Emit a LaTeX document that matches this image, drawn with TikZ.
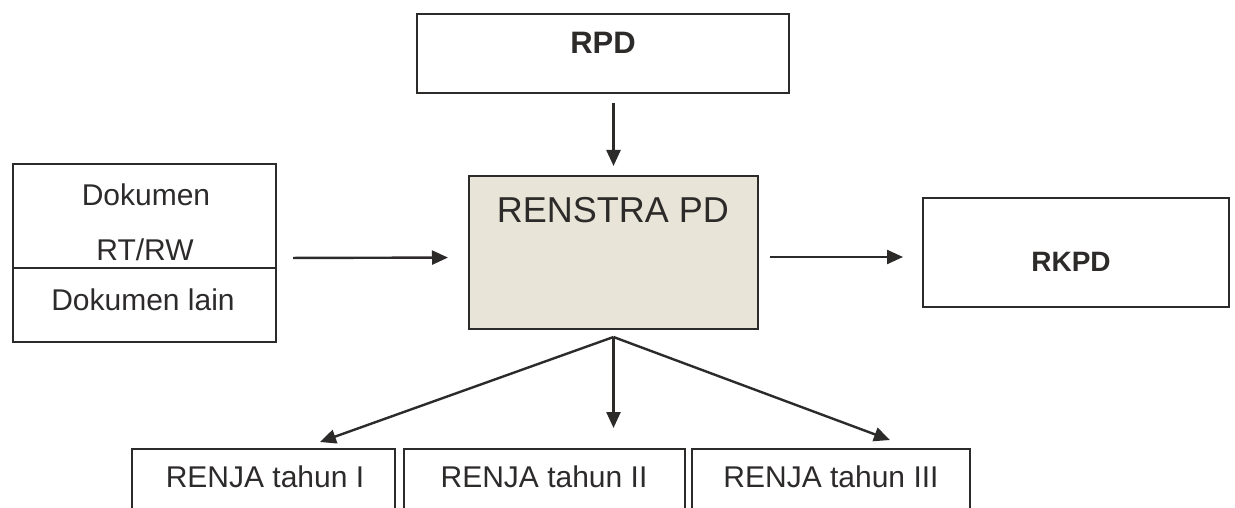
\documentclass[tikz,border=0pt]{standalone}
\usepackage{fontspec}
\setmainfont{Liberation Sans}
\usetikzlibrary{arrows.meta}
\definecolor{ink}{RGB}{45,42,42}
\definecolor{renfill}{RGB}{232,228,216}
\begin{document}
\begin{tikzpicture}[x=1pt, y=-1pt,
        box/.style={draw=ink, line width=2pt, inner sep=0pt, outer sep=0pt},
        txt/.style={text=ink, inner sep=0pt, font=\fontsize{30}{36}\selectfont},
        arr/.style={draw=ink, line width=2.4pt, -{Triangle[length=16pt, width=14pt]}}]
        \useasboundingbox (0, 0) rectangle (1235, 508);
        \clip (0, 0) rectangle (1235, 508);
        \node[box, minimum width=372pt, minimum height=79pt] (rpd) at (603, 53.5) {};
        \node[txt, font=\fontsize{31}{36}\selectfont\bfseries] (rpdtxt) at (603, 43) {RPD};
        \node[box, fill=renfill, minimum width=289pt, minimum height=153pt] (renstra) at (613.5, 252.5) {};
        \node[txt, font=\fontsize{36}{42}\selectfont] (renstratxt) at (613, 210) {RENSTRA PD};
        \node[box, minimum width=263pt, minimum height=178pt] (docs) at (144.5, 253) {};
        \draw[ink, line width=2pt] (docs.west |- 0, 268) -- (docs.east |- 0, 268);
        \node[txt] (dokumen) at (146, 195) {Dokumen};
        \node[txt] (rtrw) at (145, 250) {RT/RW};
        \node[txt] (lain) at (143, 300) {Dokumen lain};
        \node[box, minimum width=306pt, minimum height=109pt] (rkpd) at (1076, 252.5) {};
        \node[txt, font=\fontsize{28}{34}\selectfont\bfseries] (rkpdtxt) at (1071, 262) {RKPD};
        \node[box, minimum width=263pt, minimum height=80pt] (renjaI) at (263.5, 489) {};
        \node[box, minimum width=281pt, minimum height=80pt] (renjaII) at (544.5, 489) {};
        \node[box, minimum width=278pt, minimum height=80pt] (renjaIII) at (831, 489) {};
        \node[txt] (renjaItxt) at (265, 477) {RENJA tahun I};
        \node[txt] (renjaIItxt) at (544, 477) {RENJA tahun II};
        \node[txt] (renjaIIItxt) at (831, 477) {RENJA tahun III};
        \coordinate (apex) at ([yshift=-8pt]renstra.south);
        \draw[arr, shorten <=10pt, shorten >=10pt] (rpd.south -| renstra.north) -- (renstra.north);
        \draw[arr, shorten <=17pt, shorten >=21pt] ([yshift=-5pt]docs.east) -- ([yshift=-5pt]renstra.west);
        \draw[arr, shorten <=12pt, shorten >=20pt] ([yshift=-4.5pt]renstra.east) -- ([yshift=-4.5pt]rkpd.west);
        \draw[arr] (apex) -- ([xshift=56.5pt, yshift=7pt]renjaI.north);
        \draw[arr, shorten >=21pt] (apex) -- (apex |- renjaII.north);
        \draw[arr] (apex) -- ([xshift=59pt, yshift=9pt]renjaIII.north);
    \end{tikzpicture}
\end{document}
